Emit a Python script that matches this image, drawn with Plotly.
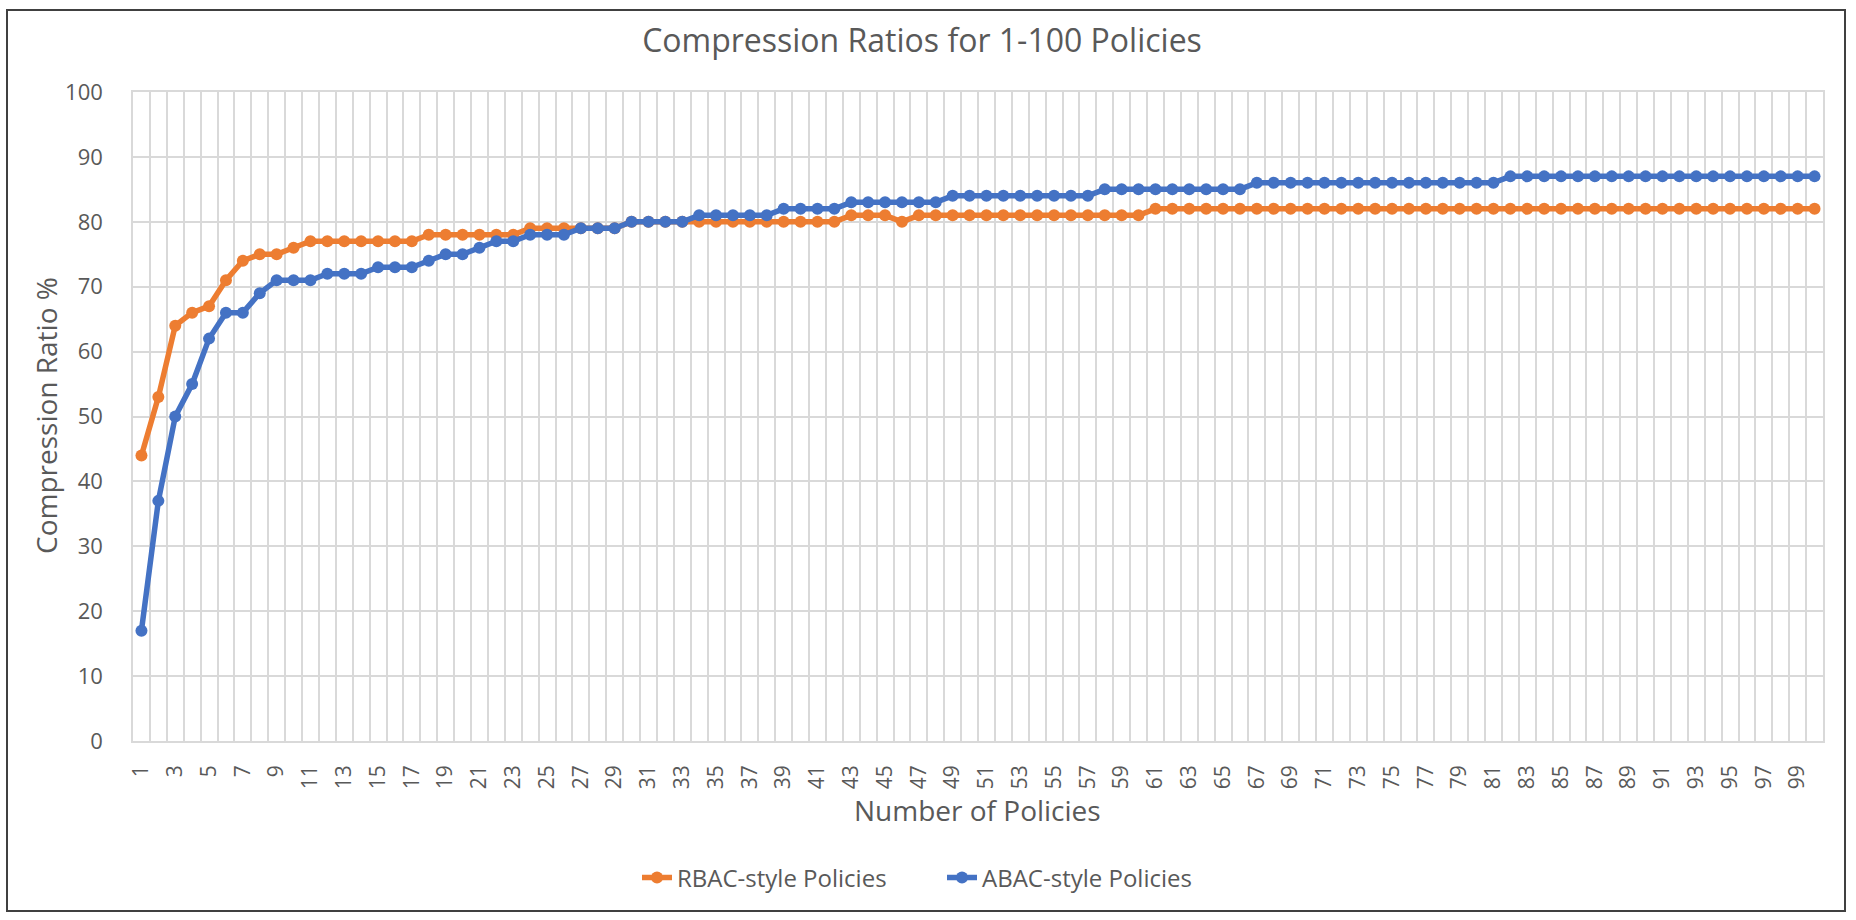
import plotly.graph_objects as go

policies = list(range(1, 101))
tick_labels = [str(n) for n in policies[::2]]

rbac_ratio = [44, 53, 64, 66, 67, 71, 74, 75, 75, 76,
              77, 77, 77, 77, 77, 77, 77, 78, 78, 78,
              78, 78, 78, 79, 79, 79, 79, 79, 79, 80,
              80, 80, 80, 80, 80, 80, 80, 80, 80, 80,
              80, 80, 81, 81, 81, 80, 81, 81, 81, 81,
              81, 81, 81, 81, 81, 81, 81, 81, 81, 81,
              82, 82, 82, 82, 82, 82, 82, 82, 82, 82,
              82, 82, 82, 82, 82, 82, 82, 82, 82, 82,
              82, 82, 82, 82, 82, 82, 82, 82, 82, 82,
              82, 82, 82, 82, 82, 82, 82, 82, 82, 82]

abac_ratio = [17, 37, 50, 55, 62, 66, 66, 69, 71, 71,
              71, 72, 72, 72, 73, 73, 73, 74, 75, 75,
              76, 77, 77, 78, 78, 78, 79, 79, 79, 80,
              80, 80, 80, 81, 81, 81, 81, 81, 82, 82,
              82, 82, 83, 83, 83, 83, 83, 83, 84, 84,
              84, 84, 84, 84, 84, 84, 84, 85, 85, 85,
              85, 85, 85, 85, 85, 85, 86, 86, 86, 86,
              86, 86, 86, 86, 86, 86, 86, 86, 86, 86,
              86, 87, 87, 87, 87, 87, 87, 87, 87, 87,
              87, 87, 87, 87, 87, 87, 87, 87, 87, 87]

W, H = 1856, 920
L, R, T, B = 133, 1823, 92, 741
FONT = "Open Sans"
TEXT = "#595959"
GRID = "#D9D9D9"


def px_x(p):
    return (p - L) / (R - L)


def px_y(p):
    return (B - p) / (B - T)


fig = go.Figure()
fig.add_trace(go.Scatter(x=policies, y=rbac_ratio, name="RBAC-style Policies",
                         mode="lines+markers",
                         line=dict(color="#ED7D31", width=5.5),
                         marker=dict(color="#ED7D31", size=12)))
fig.add_trace(go.Scatter(x=policies, y=abac_ratio, name="ABAC-style Policies",
                         mode="lines+markers",
                         line=dict(color="#4472C4", width=5.5),
                         marker=dict(color="#4472C4", size=12)))

fig.update_xaxes(range=[0.5, 100.5],
                 tickvals=policies[::2], ticktext=tick_labels,
                 tickangle=-90, ticks="", ticklabelstandoff=14,
                 tickfont=dict(family=FONT, size=21, color=TEXT),
                 showgrid=False, zeroline=False,
                 showline=True, linecolor=GRID, linewidth=1.5, mirror=True,
                 minor=dict(tick0=0.5, dtick=1, showgrid=True, gridcolor=GRID, gridwidth=1.5))
fig.update_yaxes(range=[0, 100], dtick=10, ticks="", ticklabelstandoff=24,
                 tickfont=dict(family=FONT, size=22, color=TEXT),
                 showgrid=True, gridcolor=GRID, gridwidth=1.5, zeroline=False,
                 showline=True, linecolor=GRID, linewidth=1.5, mirror=True)

fig.add_annotation(text="Number of Policies", x=px_x(977), y=px_y(810),
                   xref="paper", yref="paper", showarrow=False,
                   xanchor="center", yanchor="middle",
                   font=dict(family=FONT, size=28, color=TEXT))
fig.add_annotation(text="Compression Ratio %", x=px_x(46), y=px_y(416),
                   xref="paper", yref="paper", showarrow=False, textangle=-90,
                   xanchor="center", yanchor="middle",
                   font=dict(family=FONT, size=28, color=TEXT))

fig.add_shape(type="rect", xref="paper", yref="paper",
              x0=px_x(7), x1=px_x(1845), y0=px_y(911), y1=px_y(10),
              line=dict(color="#404040", width=2), layer="below")

fig.update_layout(template="none",
                  width=W, height=H,
                  margin=dict(l=L, r=W - R, t=T, b=H - B, autoexpand=False),
                  paper_bgcolor="white", plot_bgcolor="white",
                  title=dict(text="Compression Ratios for 1-100 Policies",
                             x=px_x(922), xanchor="center", xref="paper",
                             y=1 - 41 / H, yanchor="middle",
                             font=dict(family=FONT, size=32, color=TEXT)),
                  legend=dict(orientation="h", x=px_x(942), xanchor="center",
                              y=px_y(878), yanchor="middle",
                              entrywidth=260, entrywidthmode="pixels",
                              font=dict(family=FONT, size=24, color=TEXT),
                              bgcolor="rgba(0,0,0,0)"),
                  showlegend=True)

fig.write_html("out.html", config={"displayModeBar": False},
               post_script="document.body.style.margin='0';")
